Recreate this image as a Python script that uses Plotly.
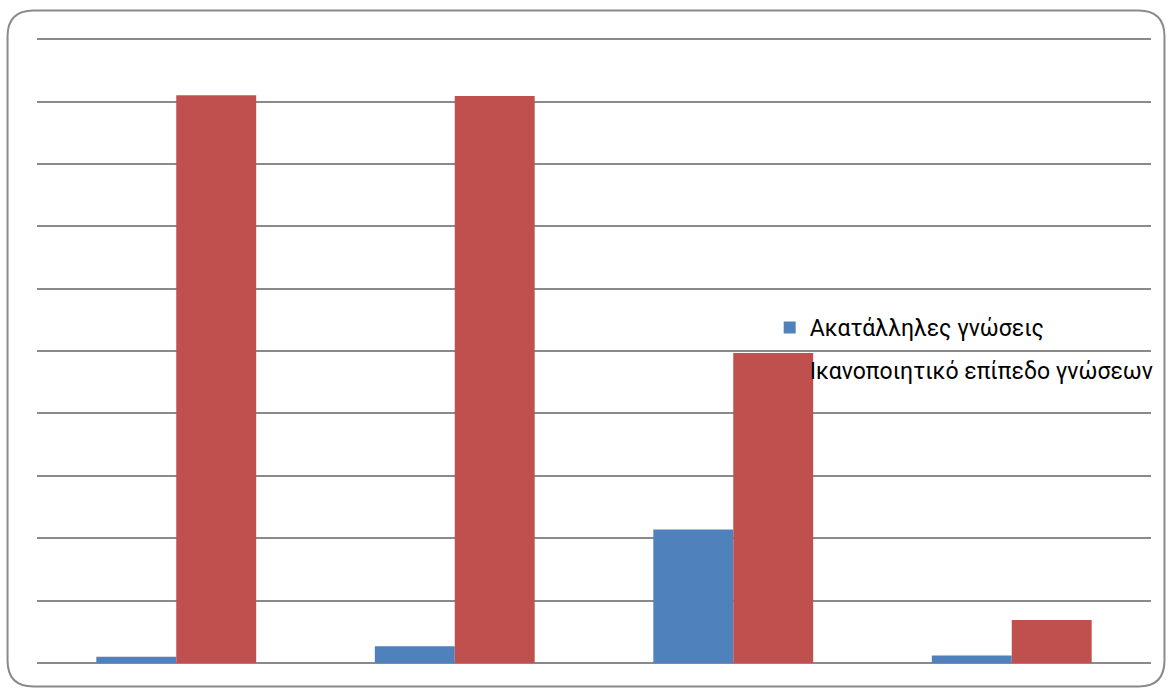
import plotly.graph_objects as go

# Survey results per question group (percent of respondents)
categories = ["1", "2", "3", "4"]
inadequate = [1.0, 2.7, 21.4, 1.2]          # Ακατάλληλες γνώσεις
satisfactory = [91.0, 90.9, 49.7, 6.9]      # Ικανοποιητικό επίπεδο γνώσεων
series_names = ["Ακατάλληλες γνώσεις", "Ικανοποιητικό επίπεδο γνώσεων"]
series_colors = ["#4F81BD", "#C0504D"]

W, H = 1171, 688
ML, MR, MT, MB = 37, 18, 36, 25
PW, PH = W - ML - MR, H - MT - MB

fig = go.Figure()
for name, vals, col, grp in zip(series_names, [inadequate, satisfactory], series_colors, ["a", "b"]):
    fig.add_trace(go.Bar(x=categories, y=vals, name=name, marker_color=col,
                         marker_line_width=0, legendgroup=grp))


def px_x(x):
    return (x - ML) / PW


def px_y(y):
    return (H - MB - y) / PH


# Rounded outer frame around the whole chart
x0, x1, y0, y1, r = 7.5, 1166.5, 10.5, 686.5, 26
pts = [
    f"M {px_x(x0 + r)} {px_y(y0)}",
    f"L {px_x(x1 - r)} {px_y(y0)}",
    f"Q {px_x(x1)} {px_y(y0)} {px_x(x1)} {px_y(y0 + r)}",
    f"L {px_x(x1)} {px_y(y1 - r)}",
    f"Q {px_x(x1)} {px_y(y1)} {px_x(x1 - r)} {px_y(y1)}",
    f"L {px_x(x0 + r)} {px_y(y1)}",
    f"Q {px_x(x0)} {px_y(y1)} {px_x(x0)} {px_y(y1 - r)}",
    f"L {px_x(x0)} {px_y(y0 + r)}",
    f"Q {px_x(x0)} {px_y(y0)} {px_x(x0 + r)} {px_y(y0)}",
    "Z",
]
fig.add_shape(type="path", path=" ".join(pts), xref="paper", yref="paper",
              line=dict(color="#8a8a8a", width=2), fillcolor="rgba(0,0,0,0)", layer="above")

fig.update_layout(
    width=W, height=H,
    margin=dict(l=ML, r=MR, t=MT, b=MB),
    paper_bgcolor="white", plot_bgcolor="white",
    barmode="group", bargap=0.426, bargroupgap=0,
    font=dict(family="Roboto", size=23, color="#000000"),
    showlegend=True,
    legend=dict(x=px_x(771), y=px_y(306), xanchor="left", yanchor="top",
                bgcolor="rgba(0,0,0,0)", traceorder="grouped", tracegroupgap=10,
                font=dict(family="Roboto", size=23, color="#000000")),
    xaxis=dict(showticklabels=False, showgrid=False, zeroline=False, showline=False, ticks=""),
    yaxis=dict(range=[0, 100.5], tickvals=list(range(0, 101, 10)), showticklabels=False,
               showgrid=True, gridcolor="#8a8a8a", gridwidth=1.5, zeroline=True,
               zerolinecolor="#8a8a8a", zerolinewidth=2, showline=False, ticks=""),
)

fig.write_html("out.html")
